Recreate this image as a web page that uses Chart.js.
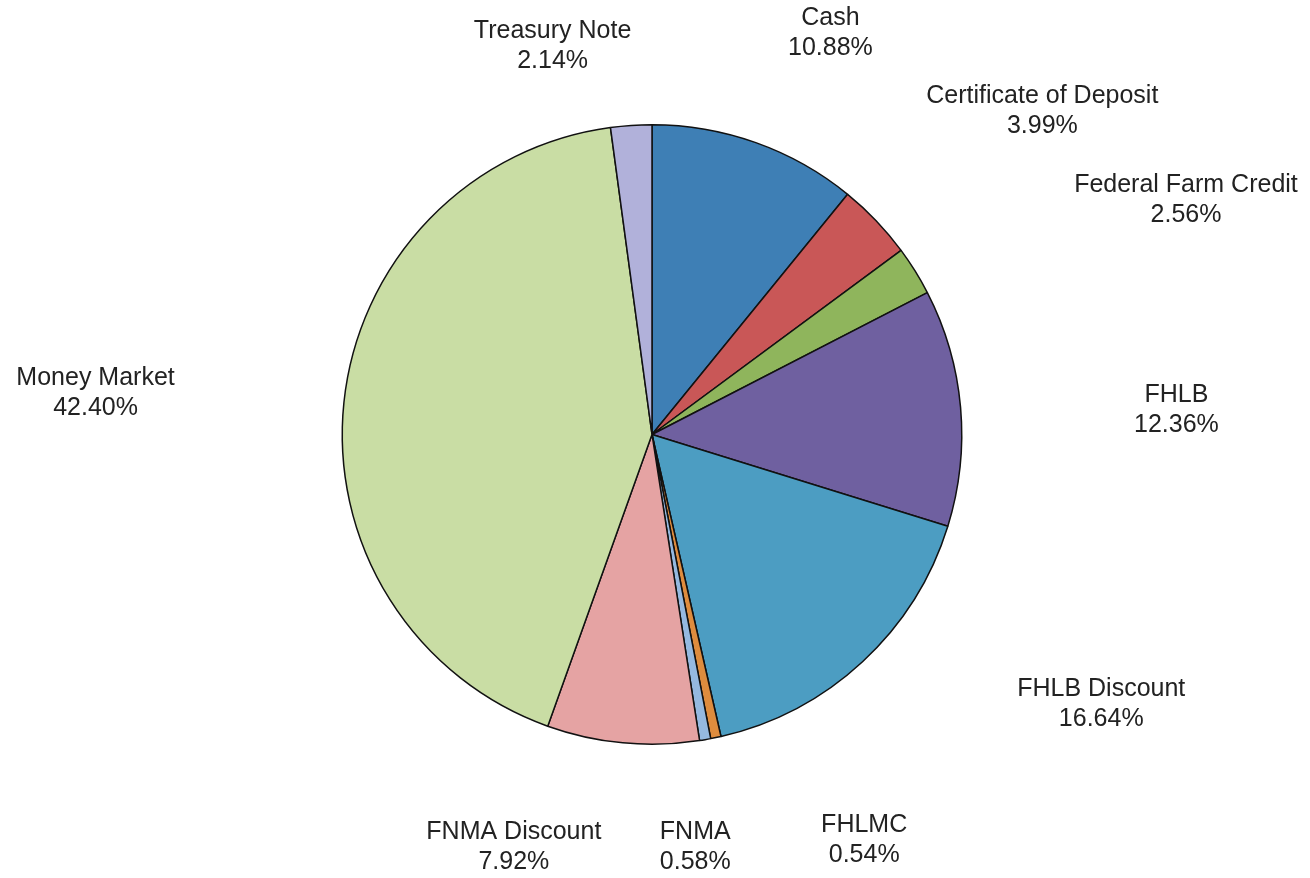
<!DOCTYPE html>
<html>
<head>
<meta charset="utf-8">
<script src="https://cdn.jsdelivr.net/npm/chart.js@4/dist/chart.umd.min.js"></script>
<style>
  html, body { margin: 0; padding: 0; background: #fff; }
  #wrap { width: 1310px; height: 878px; }
</style>
</head>
<body>
<div id="wrap"><canvas id="pie"></canvas></div>
<script>
// portfolio holdings, clockwise from 12 o'clock
const categories = [
  "Cash", "Certificate of Deposit", "Federal Farm Credit", "FHLB",
  "FHLB Discount", "FHLMC", "FNMA", "FNMA Discount", "Money Market", "Treasury Note"
];
const percents = [10.88, 3.99, 2.56, 12.36, 16.64, 0.54, 0.58, 7.92, 42.40, 2.14];

const sliceColors = [
  "#3e7fb5", "#c95757", "#8fb55c", "#6f60a0", "#4c9dc2",
  "#de8c3e", "#95b9e0", "#e5a3a3", "#c9dda4", "#b1b1da"
];

// label placement: [angle shift in degrees, distance from centre]
const labelPlace = [
  [4.4, 439], [4.0, 507], [8.2, 583], [2.4, 525], [-16.2, 524],
  [-15.7, 458], [3.9, 415], [13.1, 435], [-1.7, 558], [-10.5, 401]
];

const outsideLabels = {
  id: "outsideLabels",
  afterDraw(chart) {
    const ctx = chart.ctx;
    const meta = chart.getDatasetMeta(0);
    ctx.save();
    ctx.font = "25px 'Liberation Sans', Arial, sans-serif";
    ctx.fillStyle = "#222";
    ctx.textAlign = "center";
    ctx.textBaseline = "middle";
    meta.data.forEach((arc, i) => {
      const mid = (arc.startAngle + arc.endAngle) / 2 + labelPlace[i][0] * Math.PI / 180;
      const d = labelPlace[i][1];
      const x = arc.x + d * Math.cos(mid);
      const y = arc.y + d * Math.sin(mid);
      ctx.fillText(categories[i], x, y - 15);
      ctx.fillText(percents[i].toFixed(2) + "%", x, y + 15);
    });
    ctx.restore();
  }
};

new Chart(document.getElementById("pie"), {
  type: "pie",
  data: {
    labels: categories,
    datasets: [{
      data: percents,
      backgroundColor: sliceColors,
      borderColor: "#111",
      borderWidth: 1.5
    }]
  },
  options: {
    responsive: true,
    maintainAspectRatio: false,
    animation: false,
    layout: { padding: { top: 124, bottom: 133, left: 0, right: 6 } },
    plugins: {
      legend: { display: false },
      tooltip: { enabled: false }
    }
  },
  plugins: [outsideLabels]
});
</script>
</body>
</html>
